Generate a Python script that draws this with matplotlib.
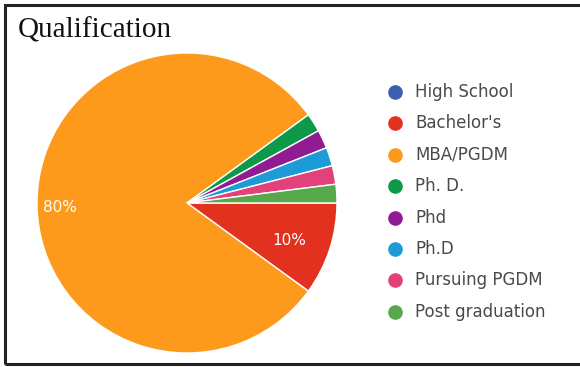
import matplotlib.pyplot as plt
import numpy as np
from matplotlib.patches import Rectangle

# Responses per qualification
labels = ["High School", "Bachelor's", "MBA/PGDM", "Ph. D.", "Phd", "Ph.D",
          "Pursuing PGDM", "Post graduation"]
counts = [0, 5, 40, 1, 1, 1, 1, 1]
colors = ["#3c5fb1", "#e2321f", "#fd9a1c", "#0d9a48", "#901b93", "#1c9bd7",
          "#e3417a", "#56a84a"]

W, H = 580, 367
fig = plt.figure(figsize=(W / 100, H / 100), dpi=100)

# outer frame (right edge falls outside the canvas)
fig.patches.append(Rectangle((5 / W, 1 - 364 / H), 600 / W, 359 / H,
                             transform=fig.transFigure, fill=False,
                             edgecolor="#222222", linewidth=2.2))

fig.text(18 / W, 1 - 37 / H, "Qualification", family="Liberation Serif",
         fontsize=21, color="#111111", ha="left", va="baseline")

cx, cy, r = 187, 203, 150
ax = fig.add_axes([(cx - r) / W, 1 - (cy + r) / H, 2 * r / W, 2 * r / H])
wedges, _ = ax.pie(counts, colors=colors, startangle=0, counterclock=False,
                   radius=1, wedgeprops=dict(edgecolor="white", linewidth=1))
ax.set_xlim(-1, 1)
ax.set_ylim(-1, 1)
ax.set_aspect("equal")
ax.axis("off")

# percentage labels on the two large slices
total = sum(counts)
label_r = {1: 0.72, 2: 0.85}
for i, w in enumerate(wedges):
    pct = counts[i] / total * 100
    if pct < 5:
        continue
    mid = np.deg2rad((w.theta1 + w.theta2) / 2)
    rr = label_r.get(i, 0.75)
    ax.text(rr * np.cos(mid), rr * np.sin(mid) - 0.03, f"{pct:.0f}%",
            color="white", ha="center", va="center", fontsize=11,
            family="DejaVu Sans")

# legend: one dot and label per category, in pixel coordinates
lax = fig.add_axes([0, 0, 1, 1], facecolor="none")
lax.set_xlim(0, W)
lax.set_ylim(H, 0)
lax.axis("off")
top, pitch = 92, 31.4
for i, (name, c) in enumerate(zip(labels, colors)):
    y = top + i * pitch
    lax.plot(395, y, "o", markersize=9.5, color=c)
    lax.text(415, y, name, ha="left", va="center", fontsize=12,
             family="DejaVu Sans", color="#4a4a4a")

fig.savefig("out.png", dpi=100, facecolor="white")
